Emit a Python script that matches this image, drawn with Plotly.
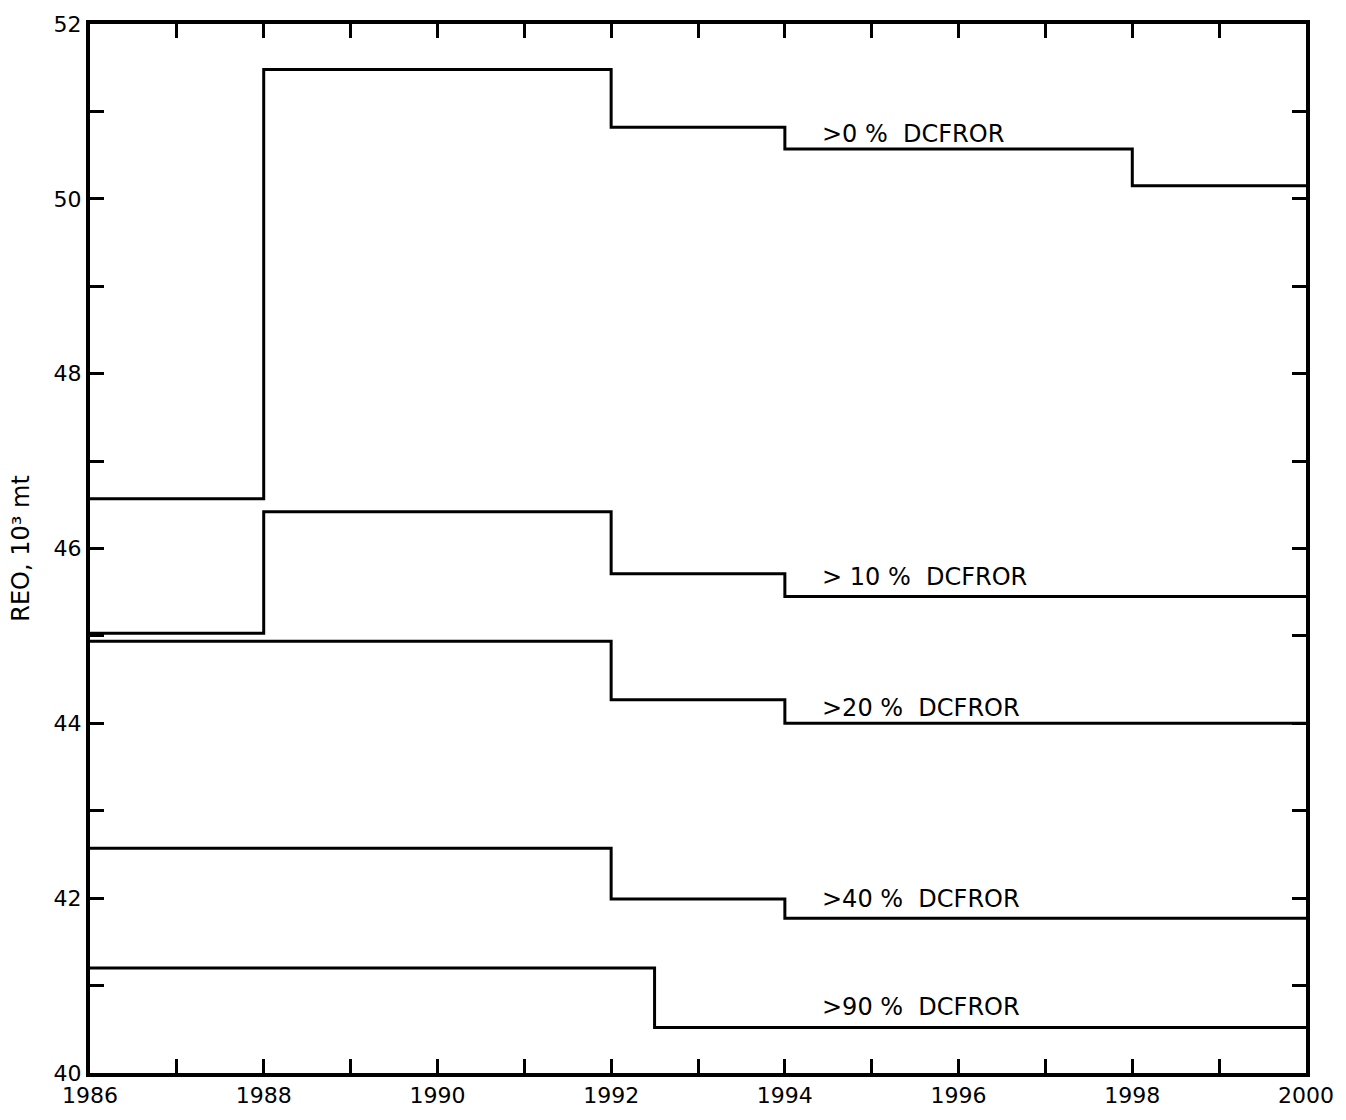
import plotly.graph_objects as go

# Step breakpoints (year where each level starts; final value repeated at 2000)
x_0 = [1986, 1988, 1992, 1994, 1998, 2000]
y_0 = [46.57, 51.48, 50.82, 50.57, 50.15, 50.15]

x_10 = [1986, 1988, 1992, 1994, 2000]
y_10 = [45.03, 46.42, 45.71, 45.45, 45.45]

x_20 = [1986, 1992, 1994, 2000]
y_20 = [44.94, 44.27, 44.00, 44.00]

x_40 = [1986, 1992, 1994, 2000]
y_40 = [42.57, 41.99, 41.77, 41.77]

x_90 = [1986, 1992.5, 2000]
y_90 = [41.20, 40.52, 40.52]

series = [(x_0, y_0), (x_10, y_10), (x_20, y_20), (x_40, y_40), (x_90, y_90)]

labels = [">0 %  DCFROR", "> 10 %  DCFROR", ">20 %  DCFROR", ">40 %  DCFROR", ">90 %  DCFROR"]
label_x = [1994.4, 1994.4, 1994.4, 1994.4, 1994.4]
label_y = [50.74, 45.67, 44.17, 41.99, 40.76]

FONT = "DejaVu Sans"

fig = go.Figure()
for xs, ys in series:
    fig.add_trace(go.Scatter(x=xs, y=ys, mode="lines", line=dict(shape="hv", color="black", width=3),
                             showlegend=False, hoverinfo="skip"))

for t, lx, ly in zip(labels, label_x, label_y):
    fig.add_annotation(x=lx, y=ly, text=t, showarrow=False, xanchor="left", yanchor="middle",
                       font=dict(family=FONT, size=24, color="black"))

fig.update_layout(
    width=1346, height=1120,
    margin=dict(l=90, r=31, t=24, b=40),
    plot_bgcolor="white", paper_bgcolor="white",
    font=dict(family=FONT, color="black"),
)
fig.update_xaxes(range=[1986, 2000], tick0=1986, dtick=2,
                 ticks="inside", ticklen=14, tickwidth=2.5, tickcolor="black",
                 minor=dict(dtick=1, tick0=1986, ticks="inside", ticklen=14, tickwidth=2.5,
                            tickcolor="black", showgrid=False),
                 showline=True, linewidth=4, linecolor="black", mirror="ticks",
                 showgrid=False, zeroline=False, tickfont=dict(size=22, family=FONT))
fig.update_yaxes(range=[40, 52], tick0=40, dtick=2,
                 ticks="inside", ticklen=14, tickwidth=2.5, tickcolor="black",
                 minor=dict(dtick=1, tick0=40, ticks="inside", ticklen=14, tickwidth=2.5,
                            tickcolor="black", showgrid=False),
                 showline=True, linewidth=4, linecolor="black", mirror="ticks",
                 showgrid=False, zeroline=False, tickfont=dict(size=22, family=FONT),
                 title=dict(text="REO, 10³ mt", font=dict(size=24, family=FONT), standoff=18))

fig.write_html("out.html")
